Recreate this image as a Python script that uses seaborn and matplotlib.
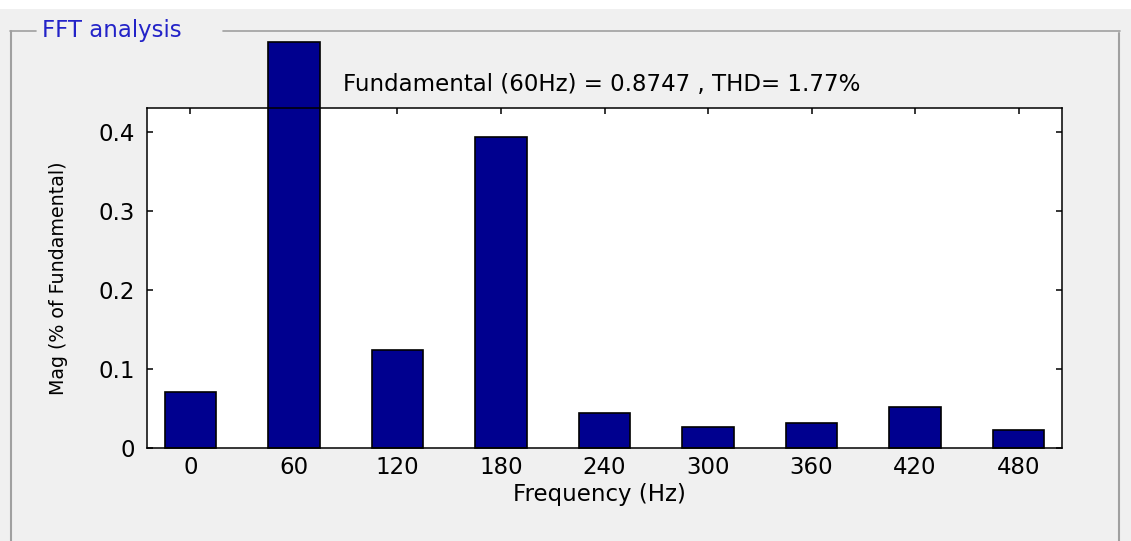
import matplotlib
matplotlib.use("Agg")
import matplotlib.pyplot as plt
import seaborn as sns
import pandas as pd
from matplotlib.lines import Line2D
from matplotlib.patches import Rectangle

freqs = ["0", "60", "120", "180", "240", "300", "360", "420", "480"]
mags = [0.071, 0.513, 0.124, 0.393, 0.044, 0.027, 0.031, 0.052, 0.023]
yticks = [0, 0.1, 0.2, 0.3, 0.4]
title = "Fundamental (60Hz) = 0.8747 , THD= 1.77%"

df = pd.DataFrame({"Frequency": freqs, "Mag": mags})

sns.set_style("ticks")
plt.rcParams["font.family"] = ["DejaVu Sans"]
plt.rcParams["text.color"] = "black"
plt.rcParams["axes.labelcolor"] = "black"
fs = 16.5

fig = plt.figure(figsize=(11.31, 5.41), dpi=100, facecolor="#f0f0f0")
# white strip on top of the panel
fig.add_artist(Rectangle((0, 1 - 9 / 541), 1, 9 / 541, transform=fig.transFigure,
                         facecolor="white", edgecolor="none"))

ax = fig.add_axes([147 / 1131, 93 / 541, 915 / 1131, 340 / 541])
sns.barplot(data=df, x="Frequency", y="Mag", order=freqs, color="#00008f",
            saturation=1, width=0.5, edgecolor="black", linewidth=1.2, ax=ax)
for p in ax.patches:
    p.set_clip_on(False)

ax.set_xlim(-0.42, 8.42)
ax.set_ylim(0, 0.43)
ax.set_yticks(yticks)
ax.set_yticklabels(["0", "0.1", "0.2", "0.3", "0.4"])
ax.set_facecolor("white")
for s in ax.spines.values():
    s.set_visible(True)
    s.set_color("black")
    s.set_linewidth(1.1)
ax.tick_params(direction="in", top=True, right=True, length=4.5, width=1.1,
               labelsize=fs, colors="black")
ax.tick_params(axis="y", pad=9)
ax.tick_params(axis="x", pad=6)
ax.set_xlabel("Frequency (Hz)", fontsize=fs, va="center")
ax.xaxis.set_label_coords(0.495, -(494 - 448) / 340)
ax.set_ylabel("Mag (% of Fundamental)", fontsize=13.7, va="center",
              family=["DejaVu Sans Condensed", "DejaVu Sans"])
ax.yaxis.set_label_coords((58 - 147) / 915, 0.5)
ax.set_title(title, fontsize=fs, y=(448 - 84) / 340, va="center", pad=0, x=0.497)

# group box frame
c = "#a0a0a0"
fig.add_artist(Line2D([10 / 1131, 36 / 1131], [1 - 31 / 541] * 2, color=c, lw=1.2))
fig.add_artist(Line2D([223 / 1131, 1120 / 1131], [1 - 31 / 541] * 2, color=c, lw=1.2))
fig.add_artist(Line2D([11 / 1131] * 2, [0, 1 - 31 / 541], color=c, lw=1.5))
fig.add_artist(Line2D([1119 / 1131] * 2, [0, 1 - 33 / 541], color=c, lw=1.5))
fig.text(42 / 1131, 1 - 30 / 541, "FFT analysis", color="#2323c8", fontsize=fs,
         va="center", ha="left")

fig.savefig("out.png", dpi=100, facecolor=fig.get_facecolor())
